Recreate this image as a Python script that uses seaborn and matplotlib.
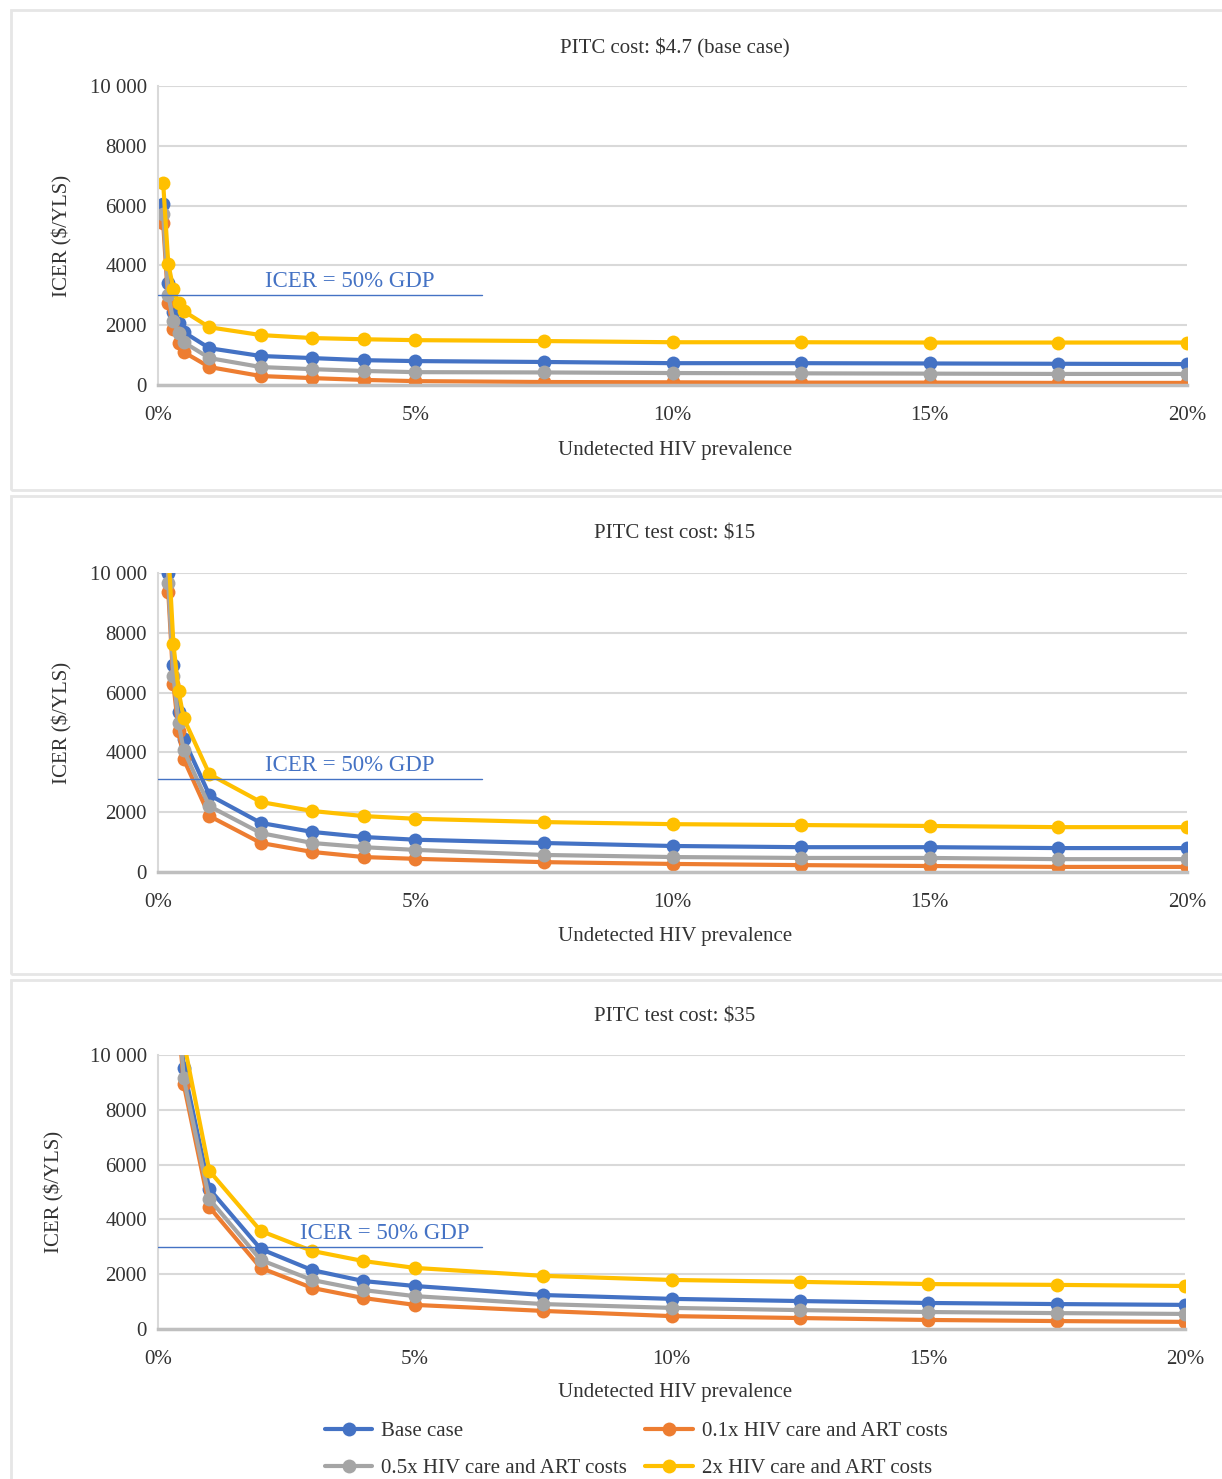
import numpy as np
import pandas as pd
import matplotlib
matplotlib.use("Agg")
import matplotlib.pyplot as plt
import seaborn as sns
from matplotlib.patches import Rectangle
from matplotlib.lines import Line2D
from matplotlib.ticker import FuncFormatter

sns.set_theme(style="white")
plt.rcParams['font.family'] = ['Liberation Serif', 'DejaVu Serif']

# undetected HIV prevalence (%)
prevalence = [0.1, 0.2, 0.3, 0.4, 0.5, 1, 2, 3, 4, 5, 7.5, 10, 12.5, 15, 17.5, 20]

series_names = ["Base case", "0.1x HIV care and ART costs",
                "0.5x HIV care and ART costs", "2x HIV care and ART costs"]

# PITC cost $4.7 (base case)
p1_base = [6060, 3400, 2430, 2070, 1770, 1230, 970, 900, 830, 800, 770, 730, 730, 720, 710, 700]
p1_x01 = [5430, 2730, 1870, 1400, 1100, 600, 300, 230, 170, 130, 100, 90, 80, 80, 70, 70]
p1_x05 = [5730, 3000, 2130, 1730, 1430, 900, 600, 530, 470, 430, 420, 400, 390, 380, 370, 370]
p1_x2 = [6770, 4060, 3200, 2730, 2470, 1930, 1670, 1570, 1530, 1500, 1470, 1430, 1430, 1420, 1420, 1420]

# PITC test cost $15
p2_base = [20500, 10000, 6910, 5340, 4440, 2570, 1640, 1340, 1170, 1080, 970, 870, 830, 830, 800, 800]
p2_x01 = [19800, 9360, 6280, 4710, 3770, 1870, 970, 670, 500, 440, 330, 270, 230, 200, 170, 170]
p2_x05 = [20100, 9650, 6550, 4980, 4070, 2200, 1300, 970, 830, 740, 570, 500, 470, 470, 430, 430]
p2_x2 = [22000, 10800, 7620, 6050, 5140, 3270, 2340, 2040, 1870, 1780, 1670, 1600, 1570, 1540, 1500, 1500]

# PITC test cost $35
p3_base = [48000, 24000, 16000, 12000, 9530, 5110, 2920, 2150, 1750, 1570, 1240, 1100, 1020, 950, 910, 880]
p3_x01 = [46000, 23000, 15200, 11300, 8940, 4450, 2230, 1500, 1130, 880, 660, 470, 400, 330, 290, 260]
p3_x05 = [47000, 23500, 15600, 11700, 9160, 4740, 2520, 1790, 1420, 1200, 910, 770, 690, 620, 580, 550]
p3_x2 = [52000, 26000, 17300, 13000, 10500, 5770, 3580, 2850, 2480, 2230, 1940, 1790, 1720, 1640, 1610, 1570]

titles = ["PITC cost: $4.7 (base case)", "PITC test cost: $15", "PITC test cost: $35"]
gdp_threshold = [3000, 3100, 3000]
gdp_line_end = 6.3  # % prevalence where the threshold line stops
gdp_label_x = [3.73, 3.73, 4.41]

colors = ["#4472C4", "#ED7D31", "#A5A5A5", "#FFC000"]
text_color = "#333333"
fs = 15

W, H = 1222, 1479
fig = plt.figure(figsize=(W / 100, H / 100), dpi=100)


def rect(l, t, r, b):
    return [l / W, 1 - b / H, (r - l) / W, (b - t) / H]


# light panel frames
for (t, b) in [(10, 490), (496, 974), (980, 1490)]:
    fig.patches.append(Rectangle((11 / W, 1 - b / H), (1240 - 11) / W, (b - t) / H,
                                 transform=fig.transFigure, fill=False,
                                 edgecolor="#E6E6E6", linewidth=2))

panels = [
    ([p1_base, p1_x01, p1_x05, p1_x2], (158, 86, 1187, 385), 48, 450, 62),
    ([p2_base, p2_x01, p2_x05, p2_x2], (158, 573, 1187, 872), 534, 937, 62),
    ([p3_base, p3_x01, p3_x05, p3_x2], (158, 1055, 1185, 1329), 1017, 1393, 54),
]

for i, (data, box, title_y, xlab_y, ylab_x) in enumerate(panels):
    ax = fig.add_axes(rect(*box))
    df = pd.DataFrame({"prev": prevalence * 4,
                       "icer": sum(data, []),
                       "series": np.repeat(series_names, len(prevalence))})
    for name, col in zip(series_names, colors):
        sub = df[df["series"] == name]
        sns.lineplot(data=sub, x="prev", y="icer", ax=ax, color=col, linewidth=3,
                     marker="o", markersize=10, markeredgewidth=0, legend=False)
    ax.set_xlim(0, 20)
    ax.set_ylim(0, 10000)
    ax.set_xticks([0, 5, 10, 15, 20])
    ax.set_yticks([0, 2000, 4000, 6000, 8000, 10000])
    ax.xaxis.set_major_formatter(FuncFormatter(lambda v, p: f"{v:.0f}%"))
    ax.yaxis.set_major_formatter(FuncFormatter(
        lambda v, p: "10 000" if v == 10000 else f"{v:.0f}"))
    ax.tick_params(axis="both", length=0, labelsize=fs, colors=text_color)
    ax.tick_params(axis="x", pad=15)
    ax.tick_params(axis="y", pad=8)
    ax.grid(axis="y", color="#D9D9D9", linewidth=1.5)
    ax.set_axisbelow(True)
    for s in ["top", "right"]:
        ax.spines[s].set_visible(False)
    ax.spines["left"].set_color("#D9D9D9")
    ax.spines["left"].set_linewidth(1.5)
    ax.spines["bottom"].set_color("#BFBFBF")
    ax.spines["bottom"].set_linewidth(2.5)
    ax.set_xlabel("")
    ax.set_ylabel("")

    # ICER = 50% GDP threshold
    ax.plot([0, gdp_line_end], [gdp_threshold[i]] * 2, color="#4472C4",
            linewidth=1, zorder=5)
    ax.text(gdp_label_x[i], gdp_threshold[i] + 120,
            "ICER = 50% GDP", color="#4472C4", fontsize=16.5, ha="center",
            va="bottom", zorder=6)

    fig.text(675 / W, 1 - title_y / H, titles[i], ha="center", va="center",
             fontsize=fs, color=text_color)
    fig.text(675 / W, 1 - xlab_y / H, "Undetected HIV prevalence", ha="center",
             va="center", fontsize=fs, color=text_color)
    fig.text(ylab_x / W, 1 - (box[1] + box[3]) / 2 / H, "ICER ($/YLS)",
             ha="center", va="center", rotation=90, fontsize=fs, color=text_color)

handles = [Line2D([], [], color=c, linewidth=3, marker="o", markersize=10,
                  markeredgewidth=0) for c in colors]
order = [0, 2, 1, 3]
fig.legend([handles[k] for k in order], [series_names[k] for k in order],
           ncol=2, loc="center", bbox_to_anchor=(636 / W, 1 - 1450 / H),
           frameon=False, fontsize=fs, handlelength=2.3, handletextpad=0.4,
           columnspacing=0.9, labelspacing=0.85, labelcolor=text_color)

fig.savefig("out.png", dpi=100)
